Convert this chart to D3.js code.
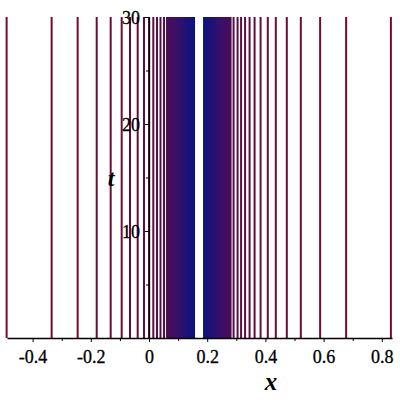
<!DOCTYPE html>
<html><head><meta charset="utf-8">
<script src="https://cdn.jsdelivr.net/npm/d3@7"></script>
<style>
html,body{margin:0;padding:0;background:#fff;}
svg{display:block;}
</style></head>
<body>
<svg id="chart" width="400" height="400"></svg>
<script>
// ---- data ----
// contour lines (x positions), ordered from outermost level inwards, left side
const leftLines = [-0.4893, -0.3346, -0.2452, -0.1798, -0.1317, -0.0939, -0.0653, -0.0389, -0.0172, 0.0, 0.0148, 0.0275, 0.0395, 0.0516];
// right side, ordered from outermost level inwards
const rightLines = [0.8312, 0.6774, 0.5880, 0.5217, 0.4735, 0.4357, 0.4082, 0.3834, 0.3628, 0.3456, 0.3301, 0.3164, 0.3043, 0.2906];
// dense contour bands [outer edge, inner edge]
const denseBands = [[0.0585, 0.1582], [0.2837, 0.1857]];
const xMajorTicks = [-0.4, -0.2, 0, 0.2, 0.4, 0.6, 0.8];
const xMinorTicks = [-0.3, -0.1, 0.1, 0.3, 0.5, 0.7];
const tMajorTicks = [10, 20, 30];
const tMinorTicks = [5, 15, 25];
const xDomain = [-0.488, 0.835];
const tDomain = [0, 30];
const xLabel = "x", tLabel = "t";

// ---- layout ----
const svg = d3.select("#chart");
const L = 7, R = 392, T = 17, B = 338;
const x = d3.scaleLinear().domain(xDomain).range([L, R]);
const y = d3.scaleLinear().domain(tDomain).range([B, T]);
const FONT = "Liberation Serif";

const nLevels = leftLines.length;
const lineColor = d3.scaleLinear().domain([0, nLevels - 1])
  .range(["#7a0a2a", "#540c4a"]).interpolate(d3.interpolateRgb);

// gradients for dense bands
const defs = svg.append("defs");
denseBands.forEach((b, i) => {
  const g = defs.append("linearGradient").attr("id", "band" + i)
    .attr("x1", b[0] < b[1] ? "0" : "1").attr("x2", b[0] < b[1] ? "1" : "0")
    .attr("y1", "0").attr("y2", "0");
  g.append("stop").attr("offset", "0").attr("stop-color", "#4c0c54");
  g.append("stop").attr("offset", "0.45").attr("stop-color", "#35106a");
  g.append("stop").attr("offset", "0.8").attr("stop-color", "#16127a");
  g.append("stop").attr("offset", "1").attr("stop-color", "#0a1478");
});

svg.append("g").selectAll("rect").data(denseBands).join("rect")
  .attr("x", d => x(Math.min(d[0], d[1])))
  .attr("width", d => Math.abs(x(d[1]) - x(d[0])))
  .attr("y", y(tDomain[1])).attr("height", y(tDomain[0]) - y(tDomain[1]))
  .attr("fill", (d, i) => `url(#band${i})`);

const allLines = leftLines.map((v, k) => ({v, k})).concat(rightLines.map((v, k) => ({v, k})));
svg.append("g").selectAll("line").data(allLines).join("line")
  .attr("x1", d => x(d.v)).attr("x2", d => x(d.v))
  .attr("y1", y(tDomain[0])).attr("y2", y(tDomain[1]))
  .attr("stroke", d => lineColor(d.k)).attr("stroke-width", 2);

// ---- axes ----
const fmt = d => d === 0 ? "0" : d.toFixed(1);
const xAxis = svg.append("g").attr("transform", `translate(0,${B})`)
  .call(d3.axisBottom(x).tickValues(xMajorTicks).tickSize(4).tickSizeOuter(0).tickFormat(fmt))
  .attr("font-family", FONT).attr("font-size", 18);
xAxis.select(".domain").attr("stroke", "#000").attr("stroke-width", 1.3);
xAxis.selectAll("text").attr("y", 25).attr("dy", 0).attr("fill", "#000")
  .attr("font-family", FONT).attr("font-size", 18)
  .attr("stroke", "#000").attr("stroke-width", 0.3);
svg.append("g").attr("transform", `translate(0,${B})`)
  .call(d3.axisBottom(x).tickValues(xMinorTicks).tickSize(3).tickFormat(""))
  .select(".domain").remove();

const yAxis = svg.append("g").attr("transform", `translate(${x(0)},0)`)
  .call(d3.axisLeft(y).tickValues(tMajorTicks).tickSize(4).tickSizeOuter(0).tickFormat(d3.format("d")))
  .attr("font-family", FONT).attr("font-size", 18);
yAxis.select(".domain").attr("stroke", "#000").attr("stroke-width", 1.3);
yAxis.selectAll("text").attr("x", -9).attr("dy", "0.36em").attr("fill", "#000")
  .attr("font-family", FONT).attr("font-size", 18)
  .attr("stroke", "#000").attr("stroke-width", 0.3);
svg.append("g").attr("transform", `translate(${x(0)},0)`)
  .call(d3.axisLeft(y).tickValues(tMinorTicks).tickSize(3).tickFormat(""))
  .select(".domain").remove();
svg.selectAll(".tick line").attr("stroke", "#000");

// axis titles
svg.append("text").attr("x", 271).attr("y", 390).attr("text-anchor", "middle")
  .attr("font-family", FONT).attr("font-size", 25)
  .attr("font-weight", "bold").attr("font-style", "italic")
  .text(xLabel);
svg.append("text").attr("x", 111).attr("y", 186).attr("text-anchor", "middle")
  .attr("font-family", FONT).attr("font-size", 24)
  .attr("font-weight", "bold").attr("font-style", "italic")
  .text(tLabel);
</script>
</body></html>
